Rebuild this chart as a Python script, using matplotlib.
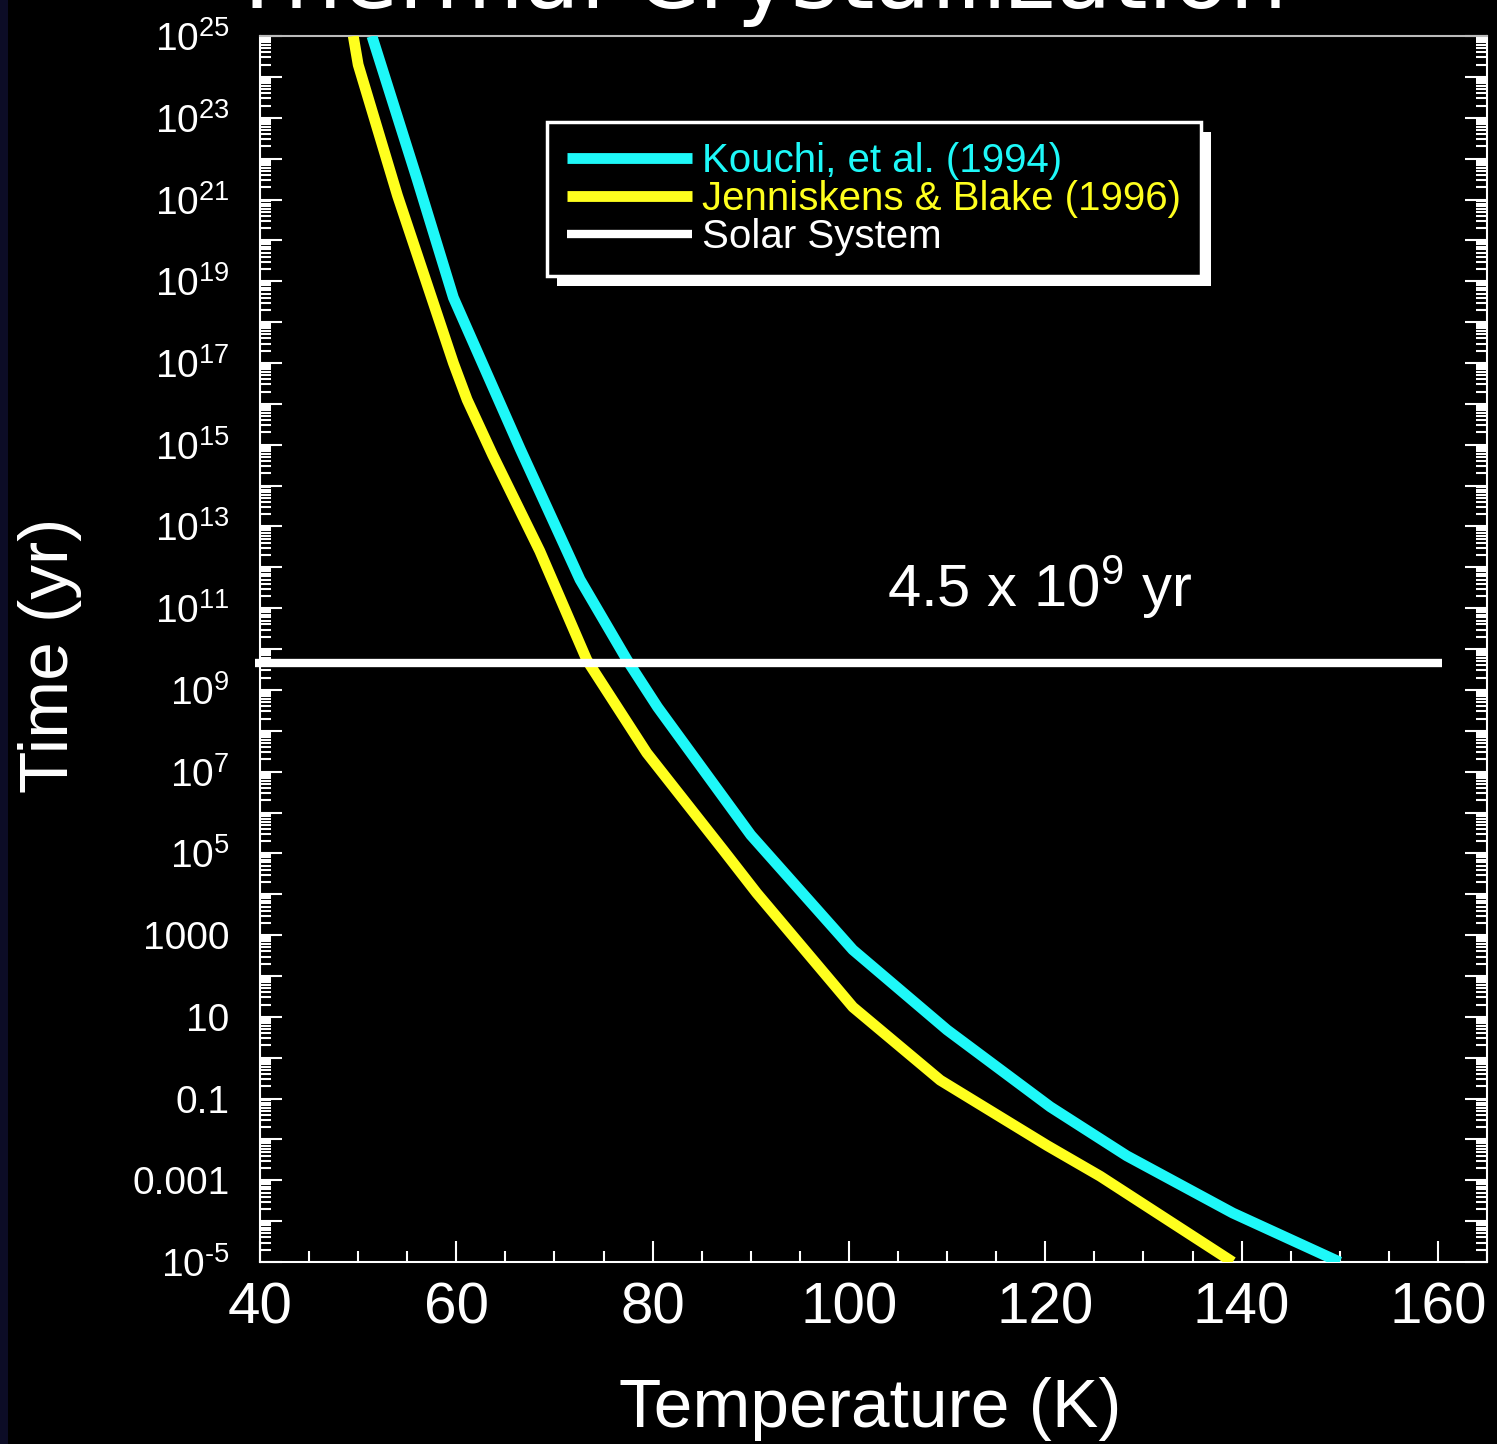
import numpy as np
import matplotlib
matplotlib.use('Agg')
import matplotlib.pyplot as plt
from matplotlib.ticker import FixedLocator, MultipleLocator, FuncFormatter
from matplotlib.patches import Rectangle
from matplotlib.transforms import IdentityTransform

plt.rcParams['font.family'] = ['Liberation Sans', 'DejaVu Sans']
plt.rcParams['mathtext.fontset'] = 'custom'
plt.rcParams['mathtext.rm'] = 'Liberation Sans'
plt.rcParams['mathtext.it'] = 'Liberation Sans:italic'

# ---- data ----
kouchi_T = [51.4, 56.0, 59.7, 66.5, 72.6, 77.4, 80.5, 90.0,
            100.4, 110.0, 120.5, 128.3, 139.1, 150.0]
kouchi_logt = [25.0, 21.5, 18.6, 14.9, 11.7, 9.73, 8.58, 5.45,
               2.64, 0.68, -1.2, -2.4, -3.8, -5.0]

jb_T = [49.5, 50.0, 54.0, 59.7, 61.1, 63.7, 68.5, 73.3, 79.4, 87.2, 90.6,
        100.4, 109.3, 120.2, 125.6, 139.1]
jb_logt = [25.0, 24.3, 21.1, 17.0, 16.1, 14.75, 12.4, 9.73, 7.46, 5.08, 4.03,
           1.24, -0.55, -2.15, -2.9, -5.0]

solar_age = 4.5e9
solar_T = [39.5, 160.4]

series_labels = ['Kouchi, et al. (1994)', 'Jenniskens & Blake (1996)', 'Solar System']
series_colors = ['#1ef8f8', '#ffff1e', 'white']

ylabel_exps = [25, 23, 21, 19, 17, 15, 13, 11, 9, 7, 5, 3, 1, -1, -3, -5]
ylabel_text = [r'$10^{25}$', r'$10^{23}$', r'$10^{21}$', r'$10^{19}$', r'$10^{17}$',
               r'$10^{15}$', r'$10^{13}$', r'$10^{11}$', r'$10^{9}$', r'$10^{7}$',
               r'$10^{5}$', '1000', '10', '0.1', '0.001', r'$10^{\text{-}5}$']

fig = plt.figure(figsize=(14.97, 14.44), dpi=100, facecolor='black')
fig.patches.append(Rectangle((0, 0), 8 / 1497, 1, transform=fig.transFigure,
                             facecolor='#0c0c26', edgecolor='none', zorder=-10))
ax = fig.add_axes([0.1737, 0.1260, 0.8196, 0.8490], facecolor='black')

ax.plot(kouchi_T, 10.0 ** np.array(kouchi_logt), color=series_colors[0], lw=7.8,
        label=series_labels[0], solid_joinstyle='round', solid_capstyle='butt', zorder=3)
ax.plot(jb_T, 10.0 ** np.array(jb_logt), color=series_colors[1], lw=7.8,
        label=series_labels[1], solid_joinstyle='round', solid_capstyle='butt', zorder=3)
ax.plot(solar_T, [solar_age, solar_age], color=series_colors[2], lw=6,
        label=series_labels[2], clip_on=False, solid_capstyle='butt', zorder=4)

ax.set_yscale('log')
ax.set_xlim(40, 165)
ax.set_ylim(1e-5, 1e25)

# ticks
ax.yaxis.set_major_locator(FixedLocator([10.0 ** e for e in range(-5, 26)]))
minor = [m * 10.0 ** e for e in range(-5, 25) for m in range(2, 10)]
ax.yaxis.set_minor_locator(FixedLocator(minor))
label_map = dict(zip(ylabel_exps, ylabel_text))
ax.yaxis.set_major_formatter(FuncFormatter(
    lambda v, p: label_map.get(int(round(np.log10(v))), '')))
ax.xaxis.set_major_locator(MultipleLocator(20))
ax.xaxis.set_minor_locator(MultipleLocator(5))

ax.tick_params(axis='y', which='major', direction='in', length=16, width=1.5,
               left=True, right=True, labelsize=28, colors='white', pad=22)
ax.tick_params(axis='y', which='minor', direction='in', length=8, width=1.5,
               left=True, right=True, colors='white')
ax.tick_params(axis='x', which='major', direction='in', length=15, width=1.5,
               top=False, labelsize=42, colors='white', pad=14)
ax.tick_params(axis='x', which='minor', direction='in', length=8, width=1.5,
               top=False, colors='white')

for side in ['left', 'bottom', 'right']:
    ax.spines[side].set_color('white')
    ax.spines[side].set_linewidth(1.5)
ax.spines['top'].set_color('#bbbbbb')
ax.spines['top'].set_linewidth(1.5)

ax.set_xlabel('Temperature (K)', fontsize=50, color='white')
ax.set_ylabel('Time (yr)', fontsize=50, color='white')
ax.xaxis.set_label_coords(0.497, -0.094)
ax.yaxis.set_label_coords(-0.145, 0.495)

ax.text(103.9, 1.1e11, r'4.5 x 10$^9$ yr', fontsize=43, color='white',
        va='baseline', ha='left')

leg = ax.legend(loc='upper left', bbox_to_anchor=(0.234, 0.930), borderaxespad=0,
                fontsize=29, frameon=True, fancybox=False, facecolor='black',
                edgecolor='white', framealpha=1, handlelength=3.1,
                handletextpad=0.25, labelspacing=0.0, borderpad=0.5)
leg.get_frame().set_linewidth(2.5)
for txt, col in zip(leg.get_texts(), series_colors):
    txt.set_color(col)

fig.text(0.506, 1 - 8 / 1444, 'Thermal Crystallization', fontsize=66,
         family='DejaVu Sans', color='white', ha='center', va='baseline')

fig.canvas.draw()
bb = leg.get_window_extent()
ax.add_artist(Rectangle((bb.x0 + 10, bb.y0 - 10), bb.width, bb.height,
                        transform=IdentityTransform(), facecolor='white',
                        edgecolor='none', zorder=leg.get_zorder() - 0.5))

fig.savefig('out.png', dpi=100, facecolor='black')
